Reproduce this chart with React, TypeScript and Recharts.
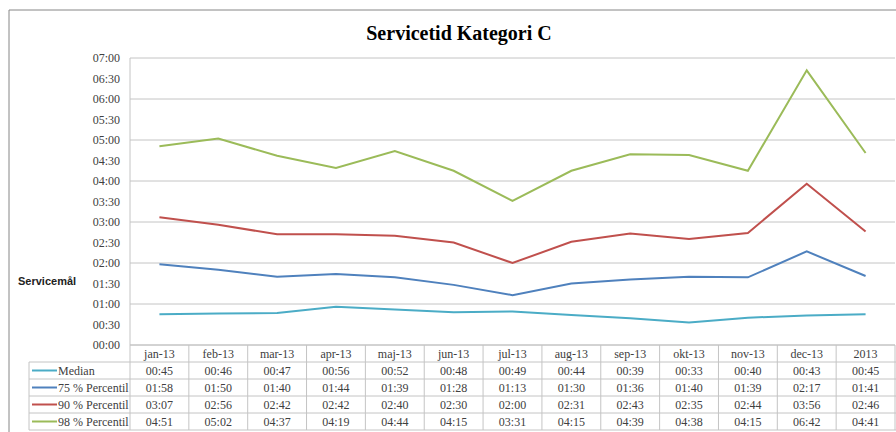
import React from 'react';
import { ComposedChart, Line, XAxis, YAxis, CartesianGrid, Customized } from 'recharts';

const categories = ['jan-13', 'feb-13', 'mar-13', 'apr-13', 'maj-13', 'jun-13', 'jul-13', 'aug-13', 'sep-13', 'okt-13', 'nov-13', 'dec-13', '2013'];
const median = ['00:45', '00:46', '00:47', '00:56', '00:52', '00:48', '00:49', '00:44', '00:39', '00:33', '00:40', '00:43', '00:45'];
const p75 = ['01:58', '01:50', '01:40', '01:44', '01:39', '01:28', '01:13', '01:30', '01:36', '01:40', '01:39', '02:17', '01:41'];
const p90 = ['03:07', '02:56', '02:42', '02:42', '02:40', '02:30', '02:00', '02:31', '02:43', '02:35', '02:44', '03:56', '02:46'];
const p98 = ['04:51', '05:02', '04:37', '04:19', '04:44', '04:15', '03:31', '04:15', '04:39', '04:38', '04:15', '06:42', '04:41'];
const yTicks = [0, 30, 60, 90, 120, 150, 180, 210, 240, 270, 300, 330, 360, 390, 420];

const seriesDefs = [
  { key: 'median', name: 'Median', values: median, color: '#4bacc6' },
  { key: 'p75', name: '75 % Percentil', values: p75, color: '#4f81bd' },
  { key: 'p90', name: '90 % Percentil', values: p90, color: '#c0504d' },
  { key: 'p98', name: '98 % Percentil', values: p98, color: '#9bbb59' },
];

const toMin = (s: string) => {
  const [h, m] = s.split(':').map(Number);
  return h * 60 + m;
};
const fmt = (v: number) => {
  const h = Math.floor(v / 60);
  const m = v % 60;
  return `${String(h).padStart(2, '0')}:${String(m).padStart(2, '0')}`;
};

const data = categories.map((c, i) => {
  const row: any = { cat: c };
  seriesDefs.forEach((s) => {
    row[s.key] = toMin(s.values[i]);
  });
  return row;
});

const W = 896;
const H = 432;
const PLOT_LEFT = 130;
const PLOT_RIGHT = 895;
const BAND = (PLOT_RIGHT - PLOT_LEFT) / categories.length;
const ROW = 17;
const LEGEND_W = 101;
const FS = 12;
const SERIF = "'Liberation Serif', 'Times New Roman', serif";
const GRID = '#c4c4c4';
const TEXT = '#404040';

const TableTick = (props: any) => {
  const { x, y, payload } = props;
  const i = categories.indexOf(payload.value);
  const half = BAND / 2;
  const total = ROW * (seriesDefs.length + 1);
  return (
    <g>
      {i === 0 && (
        <g>
          <line x1={x - half} y1={y} x2={x - half} y2={y + total} stroke={GRID} />
          <line x1={x - half - LEGEND_W} y1={y + ROW} x2={x - half - LEGEND_W} y2={y + total} stroke={GRID} />
          {seriesDefs.map((s, r) => (
            <line key={'h' + r} x1={x - half - LEGEND_W} y1={y + ROW * (r + 1)} x2={W} y2={y + ROW * (r + 1)} stroke={GRID} />
          ))}
          <line x1={x - half - LEGEND_W} y1={y + total} x2={W} y2={y + total} stroke={GRID} />
          {seriesDefs.map((s, r) => {
            const cy = y + ROW * (r + 1) + ROW / 2;
            const lx = x - half - LEGEND_W + 3;
            return (
              <g key={'lg' + r}>
                <line x1={lx} y1={cy} x2={lx + 25} y2={cy} stroke={s.color} strokeWidth={2} />
                <text x={lx + 26} y={cy + 4} fontSize={FS} style={{ fontFamily: SERIF }} fill={TEXT}>{s.name}</text>
              </g>
            );
          })}
        </g>
      )}
      <line x1={x + half} y1={y} x2={x + half} y2={y + total} stroke={GRID} />
      <text x={x} y={y + ROW / 2 + 4} textAnchor="middle" fontSize={FS} style={{ fontFamily: SERIF }} fill={TEXT}>{payload.value}</text>
      {seriesDefs.map((s, r) => (
        <text key={'v' + r} x={x} y={y + ROW * (r + 1) + ROW / 2 + 4} textAnchor="middle" fontSize={FS} style={{ fontFamily: SERIF }} fill={TEXT}>
          {s.values[i]}
        </text>
      ))}
    </g>
  );
};

const Decor = () => (
  <g>
    <line x1={9} y1={10} x2={W} y2={10} stroke="#868686" />
    <line x1={9} y1={10} x2={9} y2={H} stroke="#868686" />
    <text x={459} y={40} textAnchor="middle" fontSize={20} fontWeight="bold" style={{ fontFamily: SERIF }} fill="#000">Servicetid Kategori C</text>
    <text x={18} y={285} fontSize={11} fontWeight="bold" style={{ fontFamily: "'Liberation Sans', Arial, sans-serif" }} fill="#222">Servicemål</text>
  </g>
);

export default function App() {
  return (
    <div style={{ position: 'absolute', left: 0, top: 0, width: W, height: H, background: '#fff', fontFamily: SERIF }}>
      <ComposedChart width={W} height={H} data={data} margin={{ top: 58, right: W - PLOT_RIGHT, bottom: 2, left: 0 }}>
        <CartesianGrid vertical={false} stroke={GRID} />
        <XAxis
          dataKey="cat"
          scale="band"
          height={85}
          axisLine={{ stroke: GRID }}
          tickLine={false}
          tickSize={0}
          tickMargin={0}
          interval={0}
          tick={<TableTick />}
        />
        <YAxis
          width={PLOT_LEFT}
          domain={[0, 420]}
          ticks={yTicks}
          tickFormatter={fmt}
          axisLine={{ stroke: GRID }}
          tickLine={false}
          tickSize={0}
          tickMargin={10}
          tick={{ fontSize: FS, fill: TEXT, style: { fontFamily: SERIF } }}
        />
        {seriesDefs.map((s) => (
          <Line key={s.key} dataKey={s.key} name={s.name} stroke={s.color} strokeWidth={2} dot={false} isAnimationActive={false} />
        ))}
        <Customized component={<Decor />} />
      </ComposedChart>
    </div>
  );
}
